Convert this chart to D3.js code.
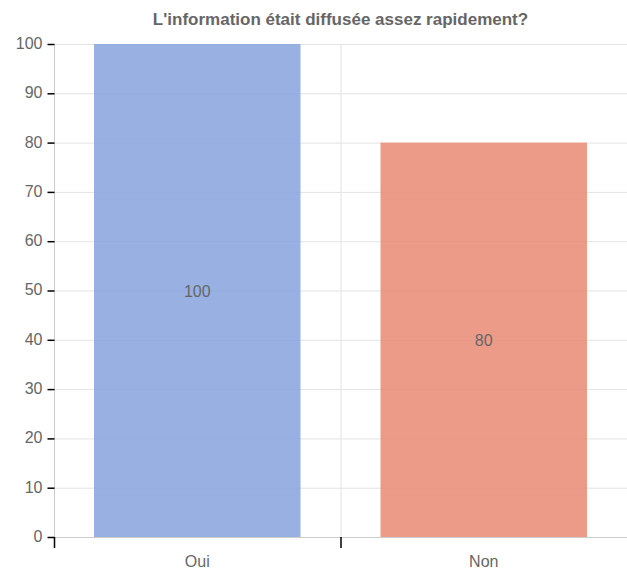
<!DOCTYPE html>
<html><head><meta charset="utf-8">
<script src="https://cdn.jsdelivr.net/npm/d3@7"></script>
<style>body{margin:0;background:#fff}svg{display:block;font-family:"Liberation Sans",Arial,sans-serif}</style>
</head><body><svg id="c" width="627" height="574"></svg>
<script>
const categories = ["Oui", "Non"];
const values = [100, 80];
const colors = ["#86a3dd", "#e98a73"];
const yTicks = [0,10,20,30,40,50,60,70,80,90,100];
const title = "L'information était diffusée assez rapidement?";

const svg = d3.select("#c");
const m = {l:54, r:0, t:44, b:37};
const W = 627, H = 574;
const x = d3.scaleBand().domain(categories).range([m.l, W - m.r]).paddingInner(0).paddingOuter(0);
const y = d3.scaleLinear().domain([0,100]).range([H - m.b, m.t]);

svg.append("text").attr("x", (m.l + W)/2).attr("y", 25).attr("text-anchor","middle")
  .attr("font-size", 17).attr("font-weight","bold").attr("fill","#666").text(title);

// gridlines
svg.append("g").selectAll("line").data(yTicks).join("line")
  .attr("x1", m.l).attr("x2", W).attr("y1", d=>y(d)+0.5).attr("y2", d=>y(d)+0.5)
  .attr("stroke","#e3e3e3");
svg.append("g").selectAll("line").data(categories.slice(1)).join("line")
  .attr("x1", d=>x(d)+0.5).attr("x2", d=>x(d)+0.5).attr("y1", m.t).attr("y2", H-m.b)
  .attr("stroke","#e3e3e3");

// bars
const pad = 40;
svg.append("g").selectAll("rect").data(categories).join("rect")
  .attr("x", d=>x(d)+pad).attr("width", x.bandwidth()-2*pad)
  .attr("y", (d,i)=>y(values[i])).attr("height", (d,i)=>y(0)-y(values[i]))
  .attr("fill", (d,i)=>colors[i]).attr("fill-opacity", 0.85);

svg.append("g").selectAll("text").data(categories).join("text")
  .attr("x", d=>x(d)+x.bandwidth()/2).attr("y", (d,i)=>(y(values[i])+y(0))/2+6)
  .attr("text-anchor","middle").attr("font-size",16).attr("fill","#666")
  .text((d,i)=>values[i]);

// y axis
const ya = svg.append("g").attr("transform",`translate(${m.l+0.5},0)`)
  .call(d3.axisLeft(y).tickValues(yTicks).tickSize(7).tickPadding(5));
ya.select(".domain").attr("stroke","#ccc").attr("d", `M0,${m.t}V${H-m.b}`);
ya.selectAll(".tick line").attr("stroke","#000").attr("stroke-width",1.5);
ya.selectAll("text").attr("font-size",16).attr("fill","#666").attr("dy","0.28em").attr("font-family","'Liberation Sans',Arial,sans-serif");

// x axis
const xa = svg.append("g").attr("transform",`translate(0,${H-m.b+0.5})`)
  .call(d3.axisBottom(x).tickSize(0).tickPadding(18));
xa.select(".domain").attr("stroke","#ccc").attr("d", `M${m.l},0H${W}`);
xa.selectAll("text").attr("font-size",16).attr("fill","#666").attr("font-family","'Liberation Sans',Arial,sans-serif");
svg.append("g").selectAll("line").data(categories).join("line")
  .attr("x1", d=>x(d)+0.5).attr("x2", d=>x(d)+0.5).attr("y1", H-m.b).attr("y2", H-m.b+11)
  .attr("stroke","#000").attr("stroke-width",1.5);
</script></body></html>
